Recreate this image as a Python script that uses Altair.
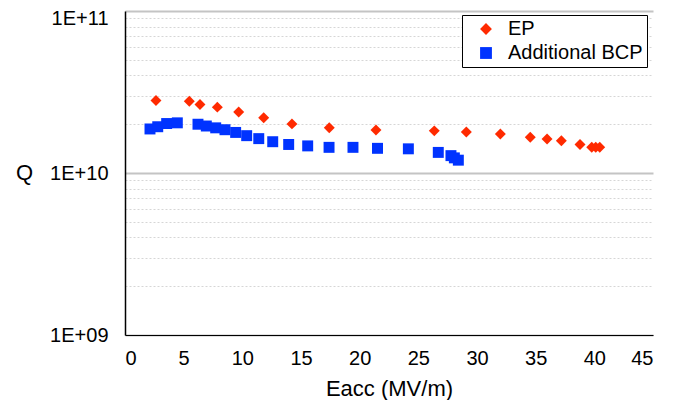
import altair as alt
import pandas as pd

# EP series
ep_eacc = [2.64, 5.48, 6.39, 7.87, 9.69, 11.82, 14.23, 17.41, 21.39, 26.36,
           29.09, 31.99, 34.54, 35.97, 37.19, 38.78, 39.78, 40.12, 40.46]
ep_q = [2.80e10, 2.77e10, 2.65e10, 2.55e10, 2.38e10, 2.19e10, 2.01e10, 1.90e10,
        1.84e10, 1.82e10, 1.79e10, 1.74e10, 1.66e10, 1.62e10, 1.58e10, 1.50e10,
        1.44e10, 1.44e10, 1.44e10]

# Additional BCP series
bcp_eacc = [2.13, 2.79, 3.55, 4.46, 6.22, 6.93, 7.73, 8.52, 9.43, 10.37, 11.40,
            12.59, 13.95, 15.57, 17.39, 19.43, 21.52, 24.15, 26.70, 27.78, 28.07, 28.41]
bcp_q = [1.87e10, 1.93e10, 2.02e10, 2.04e10, 2.00e10, 1.95e10, 1.90e10, 1.85e10,
         1.78e10, 1.70e10, 1.63e10, 1.56e10, 1.50e10, 1.47e10, 1.44e10, 1.44e10,
         1.42e10, 1.41e10, 1.34e10, 1.28e10, 1.24e10, 1.20e10]

series_names = ["EP", "Additional BCP"]
series_colors = ["#FF2A00", "#0033FF"]
series_shapes = ["diamond", "square"]

x_ticks = [0, 5, 10, 15, 20, 25, 30, 35, 40, 45]
y_ticks = [m * 10 ** e for e in (9, 10) for m in range(1, 10)] + [1e11]

df = pd.DataFrame({
    "Eacc": ep_eacc + bcp_eacc,
    "Q": ep_q + bcp_q,
    "series": [series_names[0]] * len(ep_eacc) + [series_names[1]] * len(bcp_eacc),
})

FONT = "Liberation Sans"
is_decade = "abs(log(datum.value)/LN10 - round(log(datum.value)/LN10)) < 0.01"

legend_opts = dict(title=None, orient="none", legendX=337, legendY=4,
                   strokeColor="#000000", fillColor="#ffffff",
                   padding=4, symbolOffset=10, labelOffset=12,
                   labelFontSize=20, labelFont=FONT, labelColor="#000000",
                   rowPadding=4, symbolSize=140, symbolStrokeWidth=0)

chart = alt.Chart(df).mark_point(filled=True, opacity=1, size=120).encode(
    x=alt.X("Eacc:Q",
            scale=alt.Scale(domain=[0, 45], nice=False, zero=False),
            axis=alt.Axis(values=x_ticks, title="Eacc (MV/m)", grid=False, ticks=False,
                          domainColor="#000000", domainWidth=1.2,
                          labelFontSize=20, labelFont=FONT, labelColor="#000000",
                          labelPadding=13, titleFontSize=22, titleFont=FONT,
                          titleFontWeight="normal", titleColor="#000000",
                          titleY=53, titleBaseline="middle")),
    y=alt.Y("Q:Q",
            scale=alt.Scale(type="log", domain=[1e9, 1e11], nice=False),
            axis=alt.Axis(values=y_ticks, title="Q", ticks=False,
                          labelExpr=f"{is_decade} ? '1E+' + format(round(log(datum.value)/LN10), '02d') : ''",
                          labelOffset={"condition": {"test": "datum.value > 9.5e10", "value": 7}, "value": 0},
                          grid=True,
                          gridDash={"condition": {"test": is_decade, "value": [1, 0]}, "value": [2, 2]},
                          gridColor={"condition": {"test": is_decade, "value": "#c4c4c4"}, "value": "#d6d6d6"},
                          gridWidth={"condition": {"test": is_decade, "value": 2}, "value": 1},
                          domainColor="#000000", domainWidth=1.5,
                          labelFontSize=20, labelFont=FONT, labelColor="#000000",
                          labelPadding=17, titleFontSize=22, titleFont=FONT,
                          titleFontWeight="normal", titleColor="#000000",
                          titleAngle=0, titleAlign="center", titleBaseline="middle",
                          titleX=-101, titleY=161)),
    color=alt.Color("series:N",
                    scale=alt.Scale(domain=series_names, range=series_colors),
                    legend=alt.Legend(**legend_opts)),
    shape=alt.Shape("series:N",
                    scale=alt.Scale(domain=series_names, range=series_shapes),
                    legend=alt.Legend(**legend_opts)),
).properties(
    width=528,
    height=324,
    autosize=alt.AutoSizeParams(type="none"),
    padding={"left": 117, "top": 3, "right": 27, "bottom": 65},
    background="#ffffff",
).configure_view(stroke=None)

chart.save("out.html", embed_options={"renderer": "svg", "actions": False})
